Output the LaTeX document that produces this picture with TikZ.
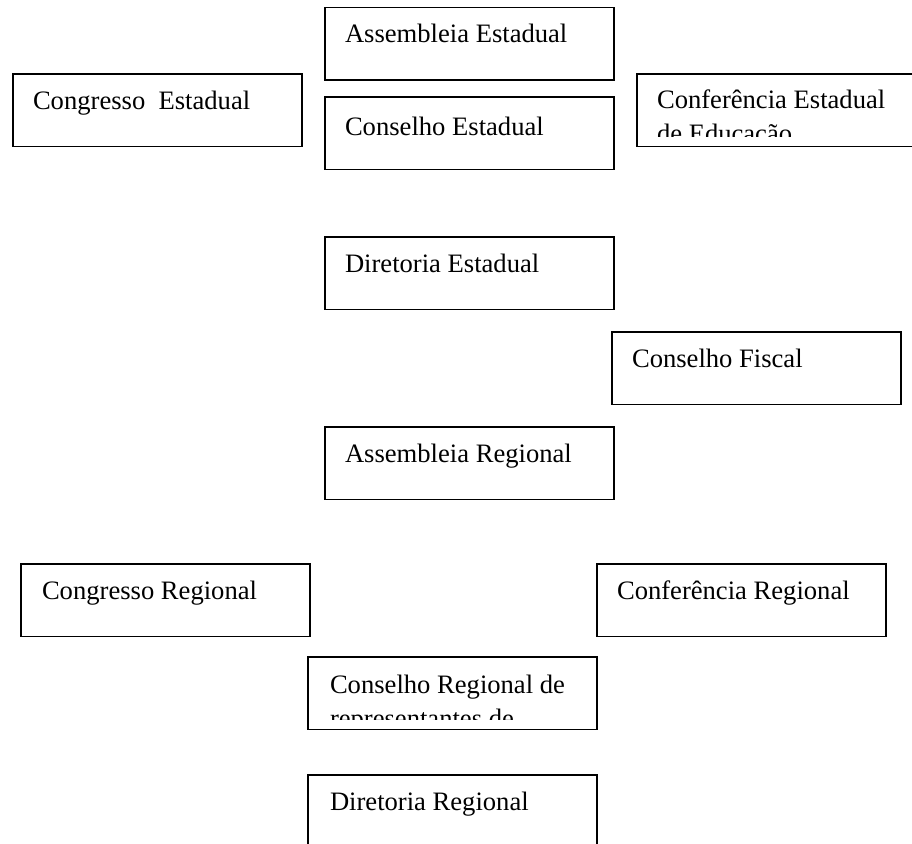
\documentclass[tikz,border=0pt]{standalone}
\usepackage{fontspec}
\setmainfont{Liberation Serif}
\usetikzlibrary{calc}
\begin{document}
\begin{tikzpicture}[x=1pt,y=-1pt,
  box/.style={draw, line width=1.5pt, rectangle, minimum width=289pt, minimum height=72.5pt, anchor=north west, inner sep=0pt, outer sep=0pt},
  lbl/.style={anchor=base west, inner sep=0pt, outer sep=0pt, font=\fontsize{26.6}{34}\selectfont}]
\useasboundingbox (0,0) rectangle (912,843);
\clip (0,0) rectangle (912,843);
% State level
\node[box] (ae) at (325,7.5) {};
\node[lbl] (aet) at ($(ae.north west)+(20,35)$) {Assembleia Estadual};
\node[box] (ce) at (13,74) {};
\node[lbl] (cet) at ($(ce.north west)+(20,35)$) {Congresso\ \ Estadual};
\node[box] (cse) at (325,97) {};
\node[lbl] (cset) at ($(cse.north west)+(20,38)$) {Conselho Estadual};
\node[box] (cfe) at (637,74) {};
\begin{scope}
  \clip (cfe.north west) rectangle ($(cfe.south east)+(0,-10.5)$);
  \node[lbl] (cfet1) at ($(cfe.north west)+(20,34)$) {Conferência Estadual};
  \node[lbl] (cfet2) at ($(cfe.north west)+(20,68)$) {de Educação};
\end{scope}
\node[box] (de) at (325,237) {};
\node[lbl] (det) at ($(de.north west)+(20,35)$) {Diretoria Estadual};
\node[box] (cf) at (612,332) {};
\node[lbl] (cft) at ($(cf.north west)+(20,35)$) {Conselho Fiscal};
% Regional level
\node[box] (ar) at (325,427) {};
\node[lbl] (art) at ($(ar.north west)+(20,35)$) {Assembleia Regional};
\node[box] (cr) at (21,564) {};
\node[lbl] (crt) at ($(cr.north west)+(21,35)$) {Congresso Regional};
\node[box] (cfr) at (597,564) {};
\node[lbl] (cfrt) at ($(cfr.north west)+(20,35)$) {Conferência Regional};
\node[box] (csr) at (308,657) {};
\begin{scope}
  \clip (csr.north west) rectangle ($(csr.south east)+(0,-10.5)$);
  \node[lbl] (csrt1) at ($(csr.north west)+(22,36)$) {Conselho Regional de};
  \node[lbl] (csrt2) at ($(csr.north west)+(22,70)$) {representantes de};
\end{scope}
\node[box] (dr) at (308,775) {};
\node[lbl] (drt) at ($(dr.north west)+(22,35)$) {Diretoria Regional};
\end{tikzpicture}
\end{document}
